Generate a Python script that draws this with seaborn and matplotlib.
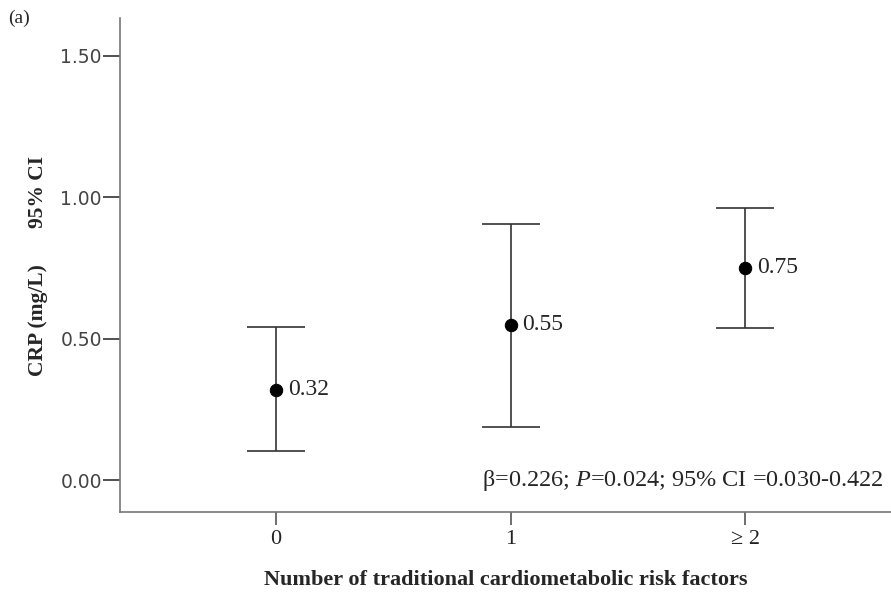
import matplotlib
matplotlib.use("Agg")
import matplotlib.pyplot as plt
import pandas as pd
import seaborn as sns

# Summary values
groups = ["0", "1", "\u2265 2"]
means = [0.32, 0.55, 0.75]
ci_low = [0.103, 0.187, 0.538]
ci_high = [0.541, 0.906, 0.962]

data = pd.DataFrame({"group": groups, "pos": range(len(groups)),
                     "mean": means, "low": ci_low, "high": ci_high})

sns.set_style("white")
plt.rcParams["font.family"] = ["Liberation Serif", "DejaVu Serif"]
plt.rcParams["mathtext.fontset"] = "custom"
plt.rcParams["mathtext.rm"] = "Liberation Serif"
plt.rcParams["mathtext.it"] = "Liberation Serif:italic"

fig = plt.figure(figsize=(8.91, 5.93), dpi=100)
ax = fig.add_axes([120 / 891, 81 / 593, 771 / 891, 494 / 593])

# CI whiskers with caps
ax.errorbar(data["pos"], data["mean"],
            yerr=[data["mean"] - data["low"], data["high"] - data["mean"]],
            fmt="none", ecolor="#333333", elinewidth=1.2, capsize=21, capthick=1.2)
sns.scatterplot(x="pos", y="mean", data=data, ax=ax, s=80, color="black",
                edgecolor="black", zorder=3, legend=False)

for x, m in zip(data["pos"], data["mean"]):
    ax.text(x + 0.05, m, f"{m:.2f}", va="center", ha="left", fontsize=17)

ax.set_xlim(-0.665, 2.62)
ax.set_ylim(-0.113, 1.634)
ax.set_xticks(data["pos"])
ax.set_xticklabels(groups, fontsize=16, color="#222222")
ax.set_yticks([0, 0.5, 1.0, 1.5])
ax.set_yticklabels(["0.00", "0.50", "1.00", "1.50"], fontsize=13.5,
                   family="DejaVu Sans", color="#444444")
ax.tick_params(axis="y", direction="out", length=12, width=1.2, color="#333333",
               left=True, pad=1)
ax.tick_params(axis="x", direction="out", length=9, width=1.2, color="#555555",
               bottom=True, pad=4)

for side in ["top", "right"]:
    ax.spines[side].set_visible(False)
for side in ["left", "bottom"]:
    ax.spines[side].set_color("#777777")
    ax.spines[side].set_linewidth(1.2)

ax.set_xlabel("Number of traditional cardiometabolic risk factors",
              fontsize=16, fontweight="bold", labelpad=15)
ax.set_ylabel("")

# y label in two parts
fig.text(38 / 891, 1 - 320 / 593, "CRP (mg/L)", rotation=90, fontsize=15.5,
         fontweight="bold", ha="center", va="center")
fig.text(38 / 891, 1 - 192 / 593, "95% CI", rotation=90, fontsize=15.5,
         fontweight="bold", ha="center", va="center")

ax.text(884 / 891 * 891 / 771 - 120 / 771, 0.0,
        "\u03b2=0.226; $\\mathit{P}$=0.024; 95% CI =0.030-0.422",
        transform=ax.get_yaxis_transform(), ha="right", va="center", fontsize=17.5)
fig.text(8 / 891, 1 - 18 / 593, "(a)", fontsize=14, va="center", ha="left")

plt.savefig("out.png", dpi=100)
